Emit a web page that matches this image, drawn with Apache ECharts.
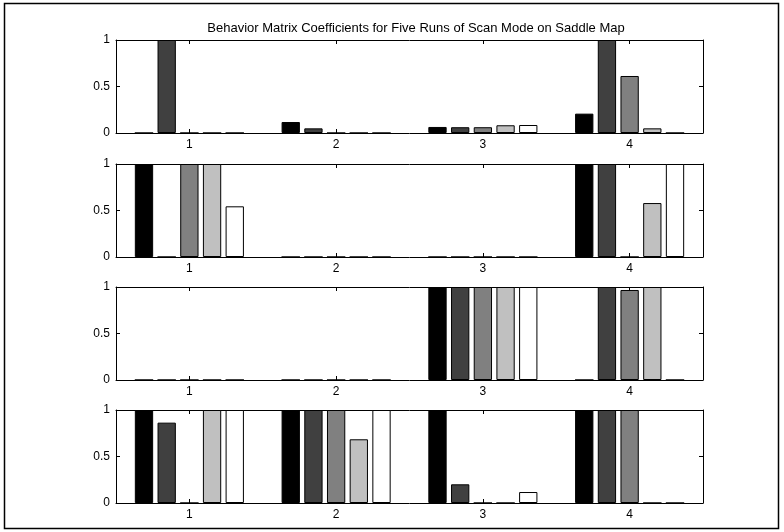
<!DOCTYPE html>
<html>
<head>
<meta charset="utf-8">
<script src="https://cdn.jsdelivr.net/npm/echarts@6/dist/echarts.min.js"></script>
<style>
  html, body { margin: 0; padding: 0; background: #fff; }
  #chart { width: 784px; height: 532px; }
</style>
</head>
<body>
<div id="chart"></div>
<script>
// Categories along each x axis
const categories = ['1', '2', '3', '4'];
// Y tick values shared by every panel
const yTicks = [0, 0.5, 1];

// Coefficients per panel: one row per run, one value per category
const panel1 = [
  [0, 0.118, 0.065, 0.208],
  [1, 0.05, 0.062, 1],
  [0, 0, 0.062, 0.613],
  [0, 0, 0.083, 0.05],
  [0, 0, 0.086, 0]
];
const panel2 = [
  [1, 0, 0, 1],
  [0, 0, 0, 1],
  [1, 0, 0, 0],
  [1, 0, 0, 0.58],
  [0.545, 0, 0, 1]
];
const panel3 = [
  [0, 0, 1, 0],
  [0, 0, 1, 1],
  [0, 0, 1, 0.968],
  [0, 0, 1, 1],
  [0, 0, 1, 0]
];
const panel4 = [
  [1, 1, 1, 1],
  [0.864, 1, 0.201, 1],
  [0, 1, 0, 1],
  [1, 0.685, 0, 0],
  [1, 1, 0.118, 0]
];

const panels = [panel1, panel2, panel3, panel4];
const runColors = ['#000000', '#404040', '#808080', '#c0c0c0', '#ffffff'];
const titleText = 'Behavior Matrix Coefficients for Five Runs of Scan Mode on Saddle Map';

const FONT = 'Liberation Sans, Arial, Helvetica, sans-serif';
const gridTops = [40, 164, 287, 410];
const gridHeight = 93;

const grid = [], xAxis = [], yAxis = [], series = [];

panels.forEach((panel, p) => {
  grid.push({ left: 116, right: 81, top: gridTops[p], height: gridHeight, containLabel: false });

  // bottom axis with labels, top axis for the box and ticks
  xAxis.push({
    type: 'category', gridIndex: p, data: categories, position: 'bottom',
    axisLine: { show: true, onZero: false, lineStyle: { color: '#000', width: 1 } },
    axisTick: { show: true, inside: true, alignWithLabel: true, length: 4, lineStyle: { color: '#000' } },
    axisLabel: { color: '#000', fontSize: 12, fontFamily: FONT, margin: 6 },
    splitLine: { show: false }
  });
  xAxis.push({
    type: 'category', gridIndex: p, data: categories, position: 'top',
    axisLine: { show: true, onZero: false, lineStyle: { color: '#000', width: 1 } },
    axisTick: { show: true, inside: true, alignWithLabel: true, length: 4, lineStyle: { color: '#000' } },
    axisLabel: { show: false },
    splitLine: { show: false }
  });
  const yCommon = {
    type: 'value', gridIndex: p, min: 0, max: 1, interval: 0.5,
    axisLine: { show: true, lineStyle: { color: '#000', width: 1 } },
    axisTick: { show: true, inside: true, length: 4, lineStyle: { color: '#000' } },
    splitLine: { show: false }
  };
  yAxis.push(Object.assign({}, yCommon, {
    position: 'left',
    axisLabel: {
      color: '#000', fontSize: 12, fontFamily: FONT, margin: 6,
      formatter: v => (yTicks.indexOf(v) >= 0 ? String(v) : '')
    }
  }));
  yAxis.push(Object.assign({}, yCommon, { position: 'right', axisLabel: { show: false } }));

  panel.forEach((runValues, r) => {
    series.push({
      type: 'bar',
      xAxisIndex: p * 2,
      yAxisIndex: p * 2,
      data: runValues,
      barWidth: 18.3,
      barGap: '24%',
      itemStyle: { color: runColors[r], borderColor: '#000', borderWidth: 1 },
      emphasis: { disabled: true },
      animation: false,
      clip: true
    });
  });
});

const chart = echarts.init(document.getElementById('chart'), null, { renderer: 'canvas' });
chart.setOption({
  backgroundColor: '#fff',
  animation: false,
  title: {
    text: titleText, left: 411, top: 17, textAlign: 'center',
    textStyle: { color: '#000', fontSize: 13, fontWeight: 'normal', fontFamily: FONT }
  },
  graphic: [{
    type: 'rect', silent: true,
    shape: { x: 4.5, y: 3.5, width: 774, height: 525 },
    style: { fill: 'none', stroke: '#000', lineWidth: 1.5 }
  }],
  grid, xAxis, yAxis, series
});
</script>
</body>
</html>
